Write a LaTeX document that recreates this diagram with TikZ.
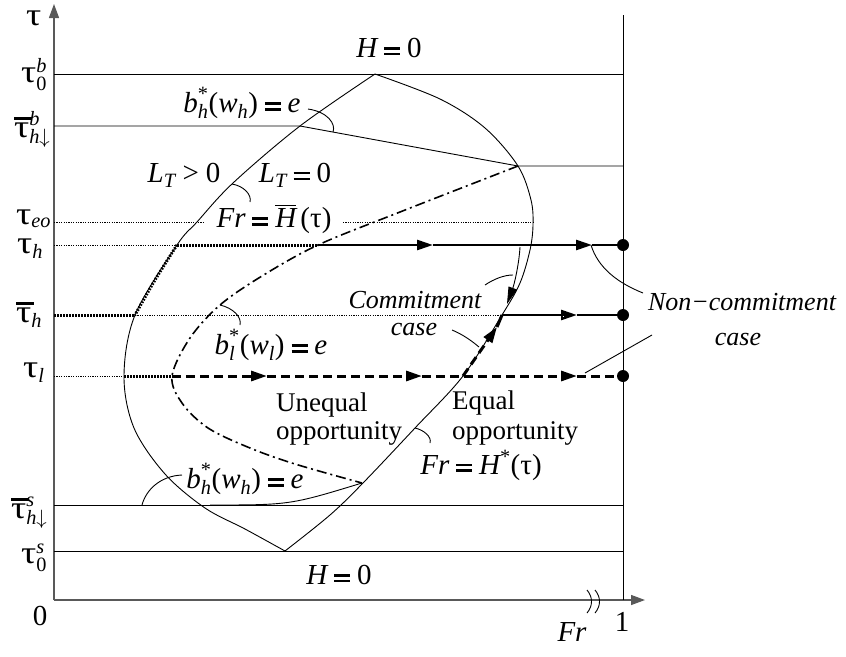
\documentclass[tikz,border=0pt]{standalone}
\usepackage{amsmath}
\usepackage{fontspec}
\setmainfont{Liberation Serif}
\usetikzlibrary{arrows.meta}
\newcommand{\mi}[1]{\text{\itshape #1}}
\newcommand{\mr}[1]{\text{\upshape #1}}
\newcommand{\eqq}{\mathrel{\vcenter{\hrule width 0.55em height 0.09em \kern0.11em \hrule width 0.55em height 0.09em}}}
\newcommand{\tu}{\text{\scalebox{1.3}[1.1]{τ}}}
\newcommand{\tb}{\text{\rlap{\rule[0.6em]{0.62em}{0.09em}}\scalebox{1.3}[1.1]{τ}}}
\tikzset{
  thinl/.style={line width=0.9pt},
  axisl/.style={line width=1.3pt, black!65},
  tdot/.style={line width=3pt, dash pattern=on 1.6pt off 1.4pt},
  fdot/.style={line width=0.6pt, dash pattern=on 1.2pt off 1.2pt},
  tdash/.style={line width=3pt, dash pattern=on 9pt off 5pt},
  tsolid/.style={line width=2.6pt},
  dashdot/.style={line width=1.6pt, dash pattern=on 10pt off 4pt on 2pt off 4pt},
  flow/.style={-{Triangle[length=16pt,width=10pt]}},
  lab/.style={inner sep=0pt, font=\fontsize{29}{31}\selectfont},
  txt/.style={inner sep=0pt, font=\fontsize{27}{29}\selectfont},
  itx/.style={inner sep=0pt, font=\fontsize{26}{28}\selectfont\itshape},
  enddot/.style={circle, fill=black, inner sep=0pt, minimum size=12pt},
}
\begin{document}
\begin{tikzpicture}[x=1pt,y=-1pt]
\useasboundingbox (0,0) rectangle (846,656);
% key points
\coordinate (O) at (54,600);
\coordinate (Ytip) at (54,4);
\coordinate (Xtip) at (645,600);
\coordinate (Rb) at (623,600);
\coordinate (Rt) at (623,15);
\coordinate (A) at (300,126);
\coordinate (B) at (518,166);
\coordinate (Ch) at (177,245);
\coordinate (Cbh) at (135,315);
\coordinate (Cl) at (124,376);
\coordinate (Dh) at (318,245);
\coordinate (Dl) at (172,376);
\coordinate (Ebh) at (502,315);
\coordinate (El) at (463,376);
\coordinate (F) at (362,483);
\coordinate (G) at (210,505);
% left-axis ends
\coordinate (y0b) at (54,74);   \coordinate (r0b) at (623,74);
\coordinate (ybh) at (54,126);  \coordinate (rB) at (623,166);
\coordinate (yeo) at (54,222);  \coordinate (eo1) at (205,222);
\coordinate (eo2) at (343,222); \coordinate (eo3) at (533,222);
\coordinate (yh) at (54,245);
\coordinate (ybar) at (54,315);
\coordinate (yl) at (54,376);
\coordinate (ysh) at (54,505);  \coordinate (rsh) at (623,505);
\coordinate (y0s) at (54,551);  \coordinate (r0s) at (623,551);
% end dots
\node[enddot] (dh) at (623,245) {};
\node[enddot] (dbh) at (623,315) {};
\node[enddot] (dl) at (623,376) {};
% axes
\draw[axisl, -{Triangle[length=14pt,width=10pt]}] (O) -- (Ytip);
\draw[axisl, -{Triangle[length=14pt,width=10pt]}] (O) -- (Xtip);
\draw[thinl] (Rb) -- (Rt);
% horizontal lines
\draw[thinl] (y0b) -- (r0b);
\draw[thinl] (ybh) -- (A) -- (B) -- (rB);
\draw[thinl] (ysh) -- (rsh);
\draw[thinl] (y0s) -- (r0s);
\draw[fdot] (yeo) -- (eo1);
\draw[fdot] (eo2) -- (eo3);
% curves
\draw[thinl] plot[smooth, tension=0.55] coordinates {(375,74) (300,126) (233,183) (197,222) (177,245) (135,315) (124,376) (134,428) (165,474) (205,508) (245,529) (285,551)};
\draw[thinl] plot[smooth, tension=0.55] coordinates {(375,74) (440,99) (485,128) (518,166) (531,200) (533,225) (530,250) (520,283) (502,315) (463,376) (415,428) (363,483) (330,515) (285,551)};
\draw[dashdot] plot[smooth, tension=0.55] coordinates {(518,166) (400,212) (318,245) (262,276) (220,305) (190,338) (172,376) (182,403) (208,428) (250,448) (295,464) (362,483)};
\draw[thinl] (G) .. controls (290,505) .. (F);
\draw[tdot] plot[smooth] coordinates {(177,245) (155,280) (135,315)};
% tau_h path
\draw[fdot] (yh) -- (Ch);
\draw[tdot] (Ch) -- (Dh);
\coordinate (h1) at (433,245); \coordinate (h2) at (592,245);
\draw[tsolid, flow] (Dh) -- (h1);
\draw[tsolid, flow] (h1) -- (h2);
\draw[tsolid] (h2) -- (dh.center);
% tau bar h path
\draw[tdot] (ybar) -- (Cbh);
\draw[fdot] (Cbh) -- (Ebh);
\coordinate (b1) at (577,315);
\draw[tsolid, flow] (Ebh) -- (b1);
\draw[tsolid] (b1) -- (dbh.center);
\draw[white, line width=0.9pt, dash pattern=on 1.5pt off 3pt] (504,316.6) -- (565,316.6);
% tau_l path
\draw[fdot] (yl) -- (Cl);
\draw[tdot] (Cl) -- (Dl);
\coordinate (l1) at (267,376); \coordinate (l2) at (422,376); \coordinate (l3) at (577,376);
\draw[tdash, flow] (Dl) -- (l1);
\draw[tdash, flow] (l1) -- (l2);
\draw[tdash, flow] (l2) -- (l3);
\draw[tdash] (l3) -- (dl.center);
% commitment upward path
\coordinate (u1) at (497,327);
\draw[tdash, flow] (El) -- (u1);
\draw[line width=3pt] (u1) -- (Ebh);
% commitment arrow
\coordinate (ca1) at (520,247); \coordinate (ca2) at (507,304);
\draw[thinl, -{Triangle[length=17pt,width=9pt]}] (ca1) .. controls (519,265) and (514,285) .. (ca2);
% break marks
\coordinate (k1) at (587,590); \coordinate (k2) at (587,613);
\coordinate (k3) at (595,590); \coordinate (k4) at (595,613);
\draw[thinl] (k1) .. controls (593,597) and (593,606) .. (k2);
\draw[thinl] (k3) .. controls (601,597) and (601,606) .. (k4);
% leaders
\coordinate (q1) at (308,109); \coordinate (q2) at (333,132);
\draw[thinl] (q1) .. controls (328,112) and (336,124) .. (q2);
\coordinate (q3) at (232,184); \coordinate (q4) at (250,202);
\draw[thinl] (q3) .. controls (244,186) and (252,195) .. (q4);
\coordinate (q5) at (220,305); \coordinate (q6) at (240,325);
\draw[thinl] (q5) .. controls (233,308) and (242,317) .. (q6);
\coordinate (q7) at (182,475); \coordinate (q8) at (142,505);
\draw[thinl] (q7) .. controls (160,476) and (146,490) .. (q8);
\coordinate (q9) at (415,428); \coordinate (q10) at (430,443);
\draw[thinl] (q9) .. controls (424,430) and (432,437) .. (q10);
\coordinate (q11) at (485,285); \coordinate (q12) at (513,275);
\draw[thinl] (q11) .. controls (494,279) and (504,275) .. (q12);
\coordinate (q13) at (452,330); \coordinate (q14) at (479,347);
\draw[thinl] (q13) .. controls (462,334) and (472,341) .. (q14);
\coordinate (q15) at (591,245); \coordinate (q16) at (643,293);
\draw[thinl] (q15) .. controls (598,268) and (618,283) .. (q16);
\coordinate (q17) at (585,373); \coordinate (q18) at (652,335);
\draw[thinl] (q17) -- (q18);
% axis labels
\node[lab, anchor=base west] (ltau) at (26,25) {$\tu$};
\node[lab, anchor=base west] (l0b) at (21,82) {$\tu^{\mi{b}}_{\mr{0}}$};
\node[lab, anchor=base west] (lbhb) at (14,137) {$\tb^{\mi{b}}_{\mi{h}\downarrow}$};
\node[lab, anchor=base west] (leo) at (16,224) {$\tu_{\mi{eo}}$};
\node[lab, anchor=base west] (lh) at (17,253) {$\tu_{\mi{h}}$};
\node[lab, anchor=base west] (lbh) at (16,322) {$\tb_{\mi{h}}$};
\node[lab, anchor=base west] (ll) at (23,377) {$\tu_{\mi{l}}$};
\node[lab, anchor=base west] (lsh) at (11,518) {$\tb^{\mi{s}}_{\mi{h}\downarrow}$};
\node[lab, anchor=base west] (l0s) at (21,563) {$\tu^{\mi{s}}_{\mr{0}}$};
\node[lab] (lzero) at (40,616) {0};
\node[lab] (lone) at (622,622) {1};
\node[lab] (lfr) at (572,632) {$\mi{Fr}$};
% curve labels
\node[lab] (H0t) at (389,48) {$\mi{H}\eqq\mr{0}$};
\node[lab] (bhu) at (242,103) {$\mi{b}^{\mr{*}}_{\mi{h}}\mr{(}\mi{w}_{\mi{h}}\mr{)}\eqq\mi{e}$};
\node[lab] (LTg) at (184,175) {$\mi{L}_{\mi{T}}\mathrel{\mr{>}}\mr{0}$};
\node[lab] (LTe) at (295,175) {$\mi{L}_{\mi{T}}\eqq\mr{0}$};
\node[lab] (FrHb) at (274,219) {$\mi{Fr}\eqq\overline{\mi{H}}\,\mr{(τ)}$};
\node[lab] (blw) at (271,345) {$\mi{b}^{\mr{*}}_{\mi{l}}\mr{(}\mi{w}_{\mi{l}}\mr{)}\eqq\mi{e}$};
\node[lab] (bhl) at (245,479) {$\mi{b}^{\mr{*}}_{\mi{h}}\mr{(}\mi{w}_{\mi{h}}\mr{)}\eqq\mi{e}$};
\node[lab] (FrHs) at (481,465) {$\mi{Fr}\eqq\mi{H}^{\mr{*}}\mr{(τ)}$};
\node[lab] (H0b) at (339,575) {$\mi{H}\eqq\mr{0}$};
% text labels
\node[txt, anchor=west] (uneq) at (276,405) {Unequal};
\node[txt, anchor=west] (uopp) at (276,433) {opportunity};
\node[txt, anchor=west] (eq) at (452,403) {Equal};
\node[txt, anchor=west] (eopp) at (452,433) {opportunity};
\node[itx] (com) at (415,300) {Commitment};
\node[itx] (comc) at (414,330) {case};
\node[itx] (ncom) at (742,302) {Non−commitment};
\node[itx] (ncomc) at (738,340) {case};
\end{tikzpicture}
\end{document}
